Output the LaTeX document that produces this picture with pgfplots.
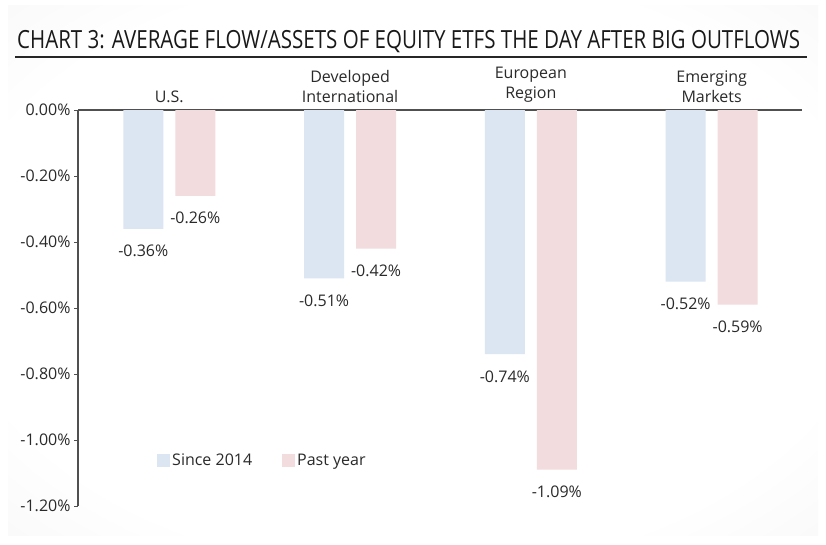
\documentclass[border=0pt]{standalone}
\usepackage{pgfplots}
\pgfplotsset{compat=1.18}
\usepackage{fontspec}
\usepackage{graphicx}
\setmainfont{Open Sans}
\definecolor{barblue}{HTML}{DCE6F2}
\definecolor{barpink}{HTML}{F2DCDD}
\definecolor{txt}{HTML}{2A2A2A}
\definecolor{axline}{HTML}{505050}
\newcommand{\lblfont}{\fontsize{16}{20}\selectfont}
\pgfdeclareradialshading{panel}{\pgfpoint{0bp}{0bp}}{%
  color(0bp)=(white); color(28bp)=(white); color(50bp)=(black!6); color(72bp)=(black!8)}

\begin{document}
\begin{tikzpicture}
  % page frame and shaded panel
  \path (0,0) rectangle (826pt,-545pt);
  \shade[shading=panel] (8pt,-6pt) rectangle (818pt,-535pt);
  % title and rule
  \node[anchor=base west, inner sep=0, text=black!90] at (17pt,-49pt)
    {\resizebox{783pt}{\height}{\fontsize{25}{30}\selectfont CHART 3: AVERAGE FLOW/ASSETS OF EQUITY ETFS THE DAY AFTER BIG OUTFLOWS}};
  \draw[line width=2pt, black!85] (15pt,-57pt) -- (807pt,-57pt);

\begin{axis}[
    at={(78pt,-506pt)}, anchor=south west,
    scale only axis, width=724pt, height=396pt,
    xmin=-0.505, xmax=3.5, ymin=-1.2, ymax=0,
    axis x line=top, axis y line=left,
    axis line style={-, axline, line width=1.2pt},
    ybar, bar width=40pt,
    xtick={0,1,2,3},
    xticklabels={U.S., Developed\\International, European\\Region, Emerging\\Markets},
    xticklabel style={align=center, font=\lblfont, text=txt},
    major x tick style={draw=none},
    ytick={-1.2,-1.0,-0.8,-0.6,-0.4,-0.2,0},
    yticklabel={\pgfmathprintnumber[fixed,fixed zerofill,precision=2]{\tick}\%},
    yticklabel style={font=\lblfont, text=txt},
    /pgf/number format/assume math mode=true,
    tick align=outside,
    major tick length=4pt,
    major y tick style={axline, line width=1pt},
    nodes near coords={\pgfmathprintnumber[fixed,fixed zerofill,precision=2]{\pgfplotspointmeta}\%},
    every node near coord/.append style={font=\lblfont, text=txt, yshift=-13pt},
    legend style={draw=none, fill=none, at={(0.105,0.114)}, anchor=west,
      legend columns=2, font=\lblfont, text=txt,
      /tikz/every even column/.append style={column sep=28pt}},
    legend image code/.code={\fill[#1] (0pt,-6.5pt) rectangle (13pt,6.5pt);},
]
  % Since 2014
  \addplot [fill=barblue, draw=none, bar shift=-26pt]
    coordinates {(0,-0.36) (1,-0.51) (2,-0.74) (3,-0.52)};
  % Past year
  \addplot [fill=barpink, draw=none, bar shift=26pt]
    coordinates {(0,-0.26) (1,-0.42) (2,-1.09) (3,-0.59)};
  \legend{Since 2014, Past year}
\end{axis}
\end{tikzpicture}
\end{document}
